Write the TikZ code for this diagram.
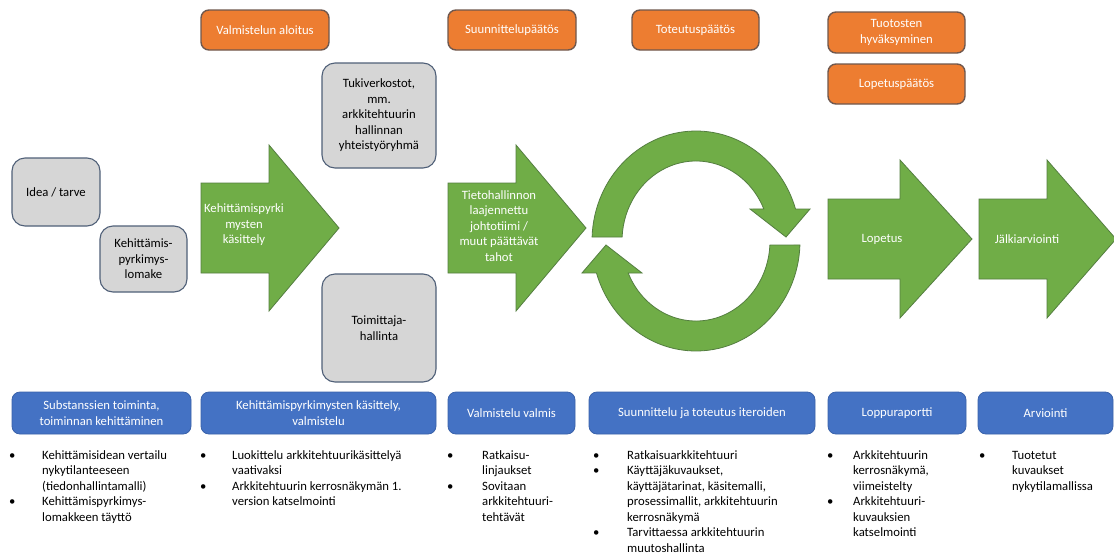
\documentclass[tikz,border=0pt]{standalone}
\usepackage{fontspec}
\setmainfont{Carlito}
\usepackage{array}

\definecolor{ofill}{HTML}{ED7D31}
\definecolor{obord}{RGB}{112,88,78}
\definecolor{gfill}{HTML}{D6D6D6}
\definecolor{gbord}{RGB}{80,96,120}
\definecolor{bfill}{HTML}{4472C4}
\definecolor{bbord}{RGB}{58,98,170}
\definecolor{grfill}{HTML}{70AD47}
\definecolor{grbord}{RGB}{84,126,64}

\newcommand\txtfont{\fontsize{12.7}{15.5}\selectfont}

% block arrow pointing right: left, shoulder, tip, centre y, body half height, head half height
\newcommand\blockarrow[6]{%
  \draw[greenshape] (#1,{#4-#5}) -- (#2,{#4-#5}) -- (#2,{#4-#6}) -- (#3,#4)
    -- (#2,{#4+#6}) -- (#2,{#4+#5}) -- (#1,{#4+#5}) -- cycle;}

% bullet list: bullet column width, rows
\newcommand\bulletlist[2]{\begin{tabular}{@{}p{#1}@{}l@{}}#2\end{tabular}}

\tikzset{
  base/.style={font=\txtfont, align=center, inner sep=0pt},
  orangebox/.style={base, draw=obord, line width=1.4pt, fill=ofill, rounded corners=8pt, text=white},
  greybox/.style={base, draw=gbord, line width=1.1pt, fill=gfill, rounded corners=13pt, text=black},
  bluebox/.style={base, draw=bbord, line width=0.8pt, fill=bfill, rounded corners=8pt, text=white},
  greenshape/.style={draw=grbord, line width=0.8pt, fill=grfill},
  arrowtext/.style={base, text=white},
  bullets/.style={font=\txtfont, inner sep=0pt, anchor=north west, align=left},
}

\begin{document}
\begin{tikzpicture}[x=1pt, y=-1pt]
\useasboundingbox[fill=white] (0,0) rectangle (1114,555);

% decision points
\node[orangebox, minimum width=128pt, minimum height=40pt] (o1) at (265,30) {Valmistelun aloitus};
\node[orangebox, minimum width=128pt, minimum height=40pt] (o2) at (512,30) {Suunnittelupäätös};
\node[orangebox, minimum width=127pt, minimum height=40pt] (o3) at (695.5,30) {Toteutuspäätös};
\node[orangebox, minimum width=137pt, minimum height=41pt] (o4) at (896.5,32.5) {Tuotosten\\hyväksyminen};
\node[orangebox, minimum width=137pt, minimum height=40pt] (o5) at (896.5,84) {Lopetuspäätös};

% actors and inputs
\node[greybox, minimum width=88pt, minimum height=68pt] (g1) at (56,192) {Idea / tarve};
\node[greybox, minimum width=87pt, minimum height=66pt] (g2) at (143.5,259) {Kehittämis-\\pyrkimys-\\lomake};
\node[greybox, minimum width=114pt, minimum height=105pt] (g3) at (379,115.5) {Tukiverkostot,\\mm.\\arkkitehtuurin\\hallinnan\\yhteistyöryhmä};
\node[greybox, minimum width=114pt, minimum height=108pt] (g4) at (379,328) {Toimittaja-\\hallinta};

% process arrows
\blockarrow{201}{269}{339}{228}{45}{83}
\node[arrowtext] (a1) at (244,225) {Kehittämispyrki\\mysten\\käsittely};
\blockarrow{448}{516}{586}{228}{45}{83}
\node[arrowtext] (a2) at (499,226) {Tietohallinnon\\laajennettu\\johtotiimi /\\muut päättävät\\tahot};
\blockarrow{828}{900}{972}{239}{40}{79}
\node[arrowtext] (a3) at (882,239) {Lopetus};
\blockarrow{979}{1047}{1116}{239}{40}{79}
\node[arrowtext] (a4) at (1027,239) {Jälkiarviointi};

% iteration cycle
\begin{scope}[xshift=696pt, yshift=-241pt]
  \draw[greenshape] (177.92:104pt and 110pt)
    arc[start angle=177.92, end angle=16.9, x radius=104pt, y radius=110pt]
    -- (114pt,32pt) -- (90pt,4pt) -- (54pt,32pt) -- (23.6:74pt and 80pt)
    arc[start angle=23.6, end angle=177.13, x radius=74pt, y radius=80pt] -- cycle;
  \draw[greenshape] (-2.08:104pt and 110pt)
    arc[start angle=-2.08, end angle=-163.1, x radius=104pt, y radius=110pt]
    -- (-114pt,-32pt) -- (-90pt,-4pt) -- (-54pt,-32pt) -- (-156.4:74pt and 80pt)
    arc[start angle=-156.4, end angle=-2.87, x radius=74pt, y radius=80pt] -- cycle;
\end{scope}

% phases
\node[bluebox, minimum width=179pt, minimum height=42pt] (b1) at (101.5,413) {Substanssien toiminta,\\toiminnan kehittäminen};
\node[bluebox, minimum width=235pt, minimum height=42pt] (b2) at (318.5,413) {Kehittämispyrkimysten käsittely,\\valmistelu};
\node[bluebox, minimum width=127pt, minimum height=42pt] (b3) at (511.5,413) {Valmistelu valmis};
\node[bluebox, minimum width=226pt, minimum height=42pt] (b4) at (702,413) {Suunnittelu ja toteutus iteroiden};
\node[bluebox, minimum width=138pt, minimum height=42pt] (b5) at (897,413) {Loppuraportti};
\node[bluebox, minimum width=135pt, minimum height=42pt] (b6) at (1045.5,413) {Arviointi};

% tasks of each phase
\node[bullets] (l1) at (9,448) {\bulletlist{33pt}{%
  • & Kehittämisidean vertailu\\ & nykytilanteeseen\\ & (tiedonhallintamalli)\\
  • & Kehittämispyrkimys-\\ & lomakkeen täyttö}};
\node[bullets] (l2) at (200,448) {\bulletlist{32pt}{%
  • & Luokittelu arkkitehtuurikäsittelyä\\ & vaativaksi\\
  • & Arkkitehtuurin kerrosnäkymän 1.\\ & version katselmointi}};
\node[bullets] (l3) at (447,448) {\bulletlist{35pt}{%
  • & Ratkaisu-\\ & linjaukset\\
  • & Sovitaan\\ & arkkitehtuuri-\\ & tehtävät}};
\node[bullets] (l4) at (593,448) {\bulletlist{34pt}{%
  • & Ratkaisuarkkitehtuuri\\
  • & Käyttäjäkuvaukset,\\ & käyttäjätarinat, käsitemalli,\\ & prosessimallit, arkkitehtuurin\\ & kerrosnäkymä\\
  • & Tarvittaessa arkkitehtuurin\\ & muutoshallinta}};
\node[bullets] (l5) at (827,448) {\bulletlist{26pt}{%
  • & Arkkitehtuurin\\ & kerrosnäkymä,\\ & viimeistelty\\
  • & Arkkitehtuuri-\\ & kuvauksien\\ & katselmointi}};
\node[bullets] (l6) at (979,448) {\bulletlist{33pt}{%
  • & Tuotetut\\ & kuvaukset\\ & nykytilamallissa}};
\end{tikzpicture}
\end{document}
